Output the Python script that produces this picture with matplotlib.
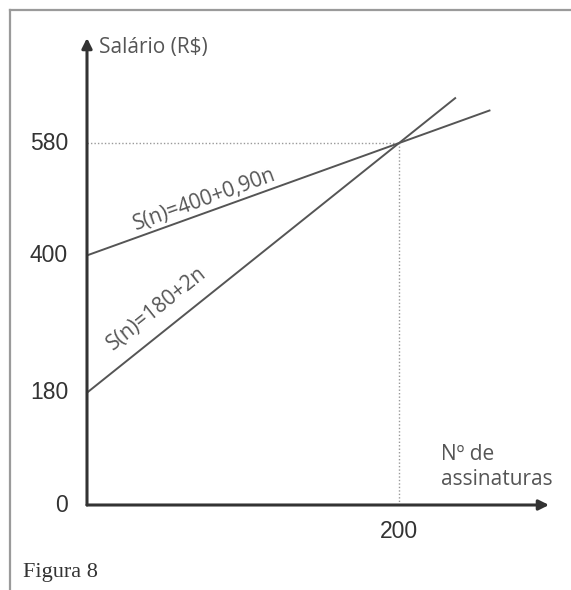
import matplotlib
matplotlib.use("Agg")
import matplotlib.pyplot as plt
from matplotlib.lines import Line2D
import numpy as np

# data
y_ticks = [0, 180, 400, 580]
x_ticks = [200]
line_a_intercept, line_a_slope, line_a_end = 400, 0.90, 258
line_b_intercept, line_b_slope, line_b_end = 180, 2.0, 236
intersection = (200, 580)
label_a = "S(n)=400+0,90n"
label_b = "S(n)=180+2n"
y_title = "Salário (R$)"
x_title = "Nº de\nassinaturas"
caption = "Figura 8"

W, H = 571, 590
fig = plt.figure(figsize=(W / 100, H / 100), dpi=100)

# axes placement in pixels
x0_px, y0_px = 87, 505
px_per_n = 1.56
px_per_s = 0.624
ax_right_px = 549
ax_top_px = 38
ax = fig.add_axes([x0_px / W, (H - y0_px) / H, (ax_right_px - x0_px) / W, (y0_px - ax_top_px) / H])
ax.set_xlim(0, (ax_right_px - x0_px) / px_per_n)
ax.set_ylim(0, (y0_px - ax_top_px) / px_per_s)
ax.axis("off")
ax.patch.set_alpha(0)

axis_col = "#333333"
line_col = "#555555"
xmax = ax.get_xlim()[1]
ymax = ax.get_ylim()[1]

# axes with arrows
for end in [(0, ymax), (xmax, 0)]:
    ax.annotate("", xy=end, xytext=(0, 0),
                arrowprops=dict(arrowstyle="-|>,head_length=0.6,head_width=0.3", color=axis_col, lw=2.2,
                                shrinkA=0, shrinkB=0), annotation_clip=False)

# dotted guides
ix, iy = intersection
ax.plot([0, ix], [iy, iy], linestyle=(0, (1, 1.5)), color="#999999", lw=1.0)
ax.plot([ix, ix], [0, iy], linestyle=(0, (1, 1.5)), color="#999999", lw=1.0)

# lines
na = np.array([0, line_a_end])
nb = np.array([0, line_b_end])
ax.plot(na, line_a_intercept + line_a_slope * na, color=line_col, lw=1.4)
ax.plot(nb, line_b_intercept + line_b_slope * nb, color=line_col, lw=1.4)

# tick labels
num_font = dict(family="Liberation Sans", fontsize=16.5, color="#333333")
for v in y_ticks:
    ax.text(-19 / px_per_n, v, str(v), ha="right", va="center", **num_font)
for v in x_ticks:
    ax.text(v, -26 / px_per_s, str(v), ha="center", va="center", **num_font)

# line labels
ang_a = np.degrees(np.arctan(line_a_slope * px_per_s / px_per_n))
ang_b = np.degrees(np.arctan(line_b_slope * px_per_s / px_per_n))
lab_font = dict(family="Open Sans", fontsize=15, color="#555555")
ax.text(75.5, 490, label_a, rotation=ang_a, ha="center", va="center", rotation_mode="anchor", **lab_font)
ax.text(44.9, 314, label_b, rotation=ang_b, ha="center", va="center", rotation_mode="anchor", **lab_font)

# axis titles
ax.text(12 / px_per_n, (y0_px - 47) / px_per_s, y_title, ha="left", va="center",
        family="Open Sans", fontsize=15, color="#555555")
ax.text((441 - x0_px) / px_per_n, (y0_px - 467) / px_per_s, x_title, ha="left", va="center",
        family="Open Sans", fontsize=15, color="#555555", linespacing=1.2)

# caption
fig.text(23 / W, 1 - 572 / H, caption, ha="left", va="center", family="Liberation Serif",
         fontsize=16, color="#333333")

# page frame
frame_col = "#9a9a9a"
fig.add_artist(Line2D([9.5 / W, 9.5 / W], [0, 1 - 10 / H], color=frame_col, lw=1.6, transform=fig.transFigure))
fig.add_artist(Line2D([9.5 / W, 1], [1 - 10 / H, 1 - 10 / H], color=frame_col, lw=1.6, transform=fig.transFigure))

fig.savefig("out.png", dpi=100)
